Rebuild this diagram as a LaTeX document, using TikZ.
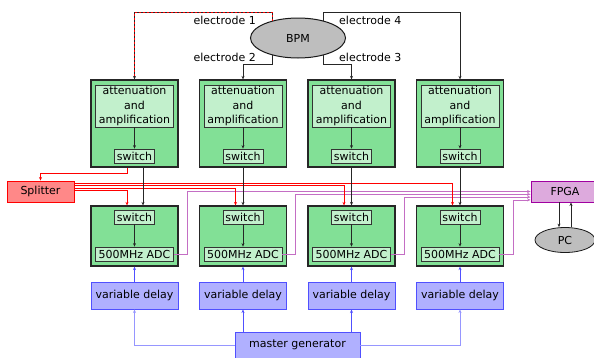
\documentclass[tikz,border=0pt]{standalone}
\usepackage{fontspec}
\setmainfont{DejaVu Sans}
\usetikzlibrary{arrows.meta,calc,shapes.geometric}
\definecolor{gout}{RGB}{130,224,150}
\definecolor{gin}{RGB}{194,240,204}
\definecolor{sfill}{RGB}{255,136,136}
\definecolor{ffill}{RGB}{221,170,221}
\definecolor{fdraw}{RGB}{160,0,160}
\definecolor{pline}{RGB}{196,110,196}
\definecolor{dfill}{RGB}{176,176,255}
\definecolor{ddraw}{RGB}{80,80,255}
\definecolor{lblue}{RGB}{150,150,255}
\definecolor{bpmgray}{RGB}{190,190,190}
\tikzset{
  outerbox/.style={draw=black!85, line width=1.2pt, fill=gout, minimum width=87pt, inner sep=0pt},
  innerbox/.style={draw=black!80, line width=0.8pt, fill=gin, inner sep=1pt},
  attbox/.style={innerbox, minimum width=78pt, minimum height=42pt, align=center},
  swbox/.style={innerbox, minimum width=40pt, minimum height=14pt},
  adcbox/.style={innerbox, minimum width=78pt, minimum height=14pt},
  delaybox/.style={draw=ddraw, fill=dfill, line width=0.9pt, minimum width=87pt, minimum height=27pt, inner sep=0pt},
  conn/.style={line width=0.6pt, black!85},
  rline/.style={line width=0.6pt, red},
  purp/.style={line width=0.7pt, pline},
  bline/.style={line width=0.7pt, ddraw},
  lbline/.style={line width=0.7pt, lblue},
  elab/.style={inner sep=0pt},
}
\begin{document}
\begin{tikzpicture}[x=1pt,y=-1pt, font=\fontsize{11}{14.3}\selectfont,
  >={Stealth[length=3.5pt,width=3pt]}]
\useasboundingbox (0,0) rectangle (594,357);

% BPM
\node[ellipse, draw=black!90, line width=1pt, fill=bpmgray, minimum width=95pt, minimum height=40pt, inner sep=0pt] (bpm) at (298,38) {BPM};
\coordinate (toprow) at (0,12);
\coordinate (midrow) at (0,64);

% columns
\foreach \i/\x in {1/134.5,2/243,3/351.5,4/460}{
  \node[outerbox, minimum height=87pt] (out\i) at (\x,123.5) {};
  \node[attbox] (att\i) at (\x,106) {attenuation\\and\\amplification};
  \node[swbox] (sw\i) at (\x,156) {switch};
  \draw[conn,->] (att\i) -- (sw\i);
  \node[outerbox, minimum height=60pt] (lo\i) at (\x,236) {};
  \node[swbox] (lsw\i) at (\x,217) {switch};
  \node[adcbox] (adc\i) at (\x,254) {500MHz ADC};
  \draw[conn,->] (lsw\i) -- (adc\i);
  \node[delaybox] (delay\i) at (\x,295.5) {variable delay};
  \draw[bline,->] (delay\i.north) -- (lo\i.south);
}

% electrodes
\draw[conn,->] (bpm.146) -- (bpm.146 |- toprow) -| (out1.north);
\draw[red, line width=0.6pt, dash pattern=on 2pt off 2pt] (bpm.146) -- (bpm.146 |- toprow) -| ([yshift=3pt]out1.north);
\draw[conn,->] (bpm.214) -- (bpm.214 |- midrow) -| (out2.north);
\draw[conn,->] (bpm.326) -- (bpm.326 |- midrow) -| (out3.north);
\draw[conn,->] (bpm.34) -- (bpm.34 |- toprow) -| (out4.north);
\node[elab, anchor=east] (e1) at (256,20) {electrode 1};
\node[elab, anchor=east] (e2) at (256,57) {electrode 2};
\node[elab, anchor=west] (e4) at (339,20) {electrode 4};
\node[elab, anchor=west] (e3) at (339,57) {electrode 3};

% splitter and FPGA
\node[draw=red, line width=0.9pt, fill=sfill, minimum width=67pt, minimum height=21pt, inner sep=0pt] (split) at (40.5,191.5) {Splitter};
\node[draw=fdraw, line width=0.9pt, fill=ffill, minimum width=68pt, minimum height=21pt, inner sep=0pt] (fpga) at (565,191.5) {FPGA};
\node[ellipse, draw=black!90, line width=0.8pt, fill=bpmgray, minimum width=60pt, minimum height=25pt, inner sep=0pt] (pc) at (565,240) {PC};
\draw[conn,->] ([xshift=-6pt]fpga.south) -- ([xshift=-6pt]pc.north);
\draw[conn,->] ([xshift=6pt]pc.north) -- ([xshift=6pt]fpga.south);

% purple ADC -> FPGA
\foreach \i/\dy/\rx in {1/0/9,2/-2.8/8.5,3/-5.6/9,4/-8.4/9.5}{
  \coordinate (r\i) at ($(lo\i.east)+(\rx,0)$);
  \coordinate (f\i) at ([yshift=\dy pt]fpga.west);
  \draw[purp,->] (adc\i.east) -| (r\i |- f\i) -- (f\i);
}

% red splitter lines
\draw[rline,->] ([xshift=-7.5pt]out1.south) -- ++(0,6) -| (split.north);
\foreach \i/\dy in {1/1.5,2/3.6,3/5.8,4/8}{
  \draw[rline,->] ([yshift=\dy pt]split.east) -| ([xshift=-7.5pt]lo\i.north);
}

% black switch -> switch
\draw[conn,->] ([xshift=8.5pt]out1.south) -- ([xshift=8.5pt]lo1.north);
\foreach \i in {2,3,4}{
  \draw[conn,->] (out\i.south) -- (lo\i.north);
}

% master generator
\node[delaybox, minimum width=125pt, minimum height=26pt] (master) at (297.5,345) {master generator};
\draw[lbline,->] (master.west) -| (delay1.south);
\draw[bline,->] (master.north -| delay2.south) -- (delay2.south);
\draw[bline,->] (master.north -| delay3.south) -- (delay3.south);
\draw[lbline,->] (master.east) -| (delay4.south);
\end{tikzpicture}
\end{document}
